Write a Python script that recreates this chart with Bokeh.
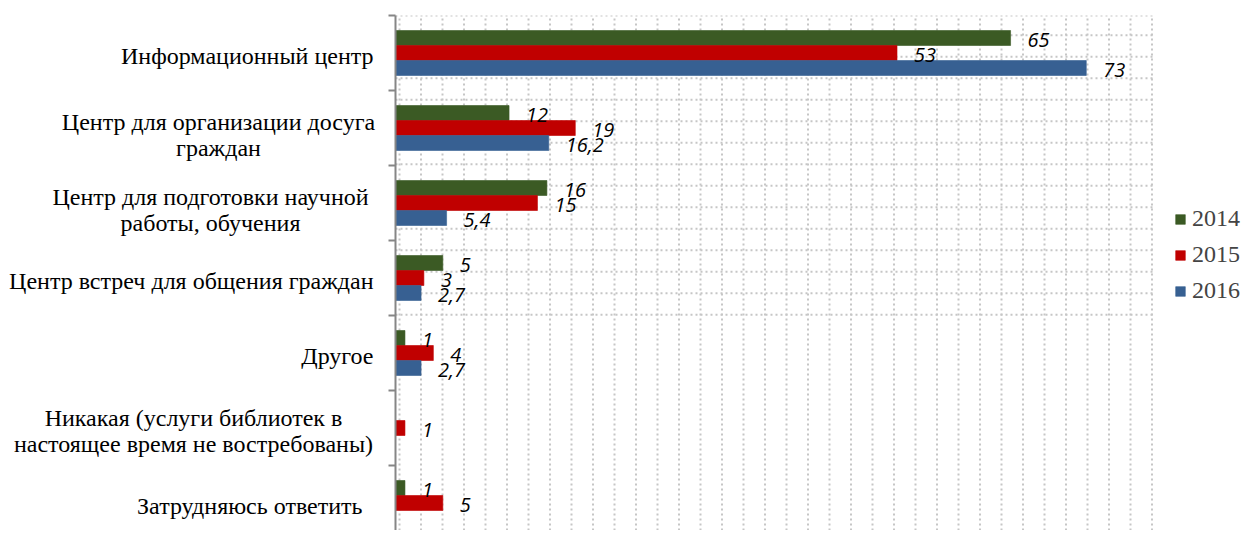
import numpy as np
from bokeh.plotting import figure
from bokeh.layouts import row
from bokeh.models import Range1d, FixedTicker, Legend, LegendItem, ColumnDataSource
from bokeh.embed import file_html
from bokeh.resources import INLINE
from bokeh.core.properties import value

categories = [
    "Информационный центр",
    "Центр для организации досуга\nграждан",
    "Центр для подготовки научной\nработы, обучения",
    "Центр встреч для общения граждан",
    "Другое",
    "Никакая (услуги библиотек в\nнастоящее время не востребованы)",
    "Затрудняюсь ответить",
]
years = ["2014", "2015", "2016"]
v2014 = [65, 12, 16, 5, 1, None, 1]
v2015 = [53, 19, 15, 3, 4, 1, 5]
v2016 = [73, 16.2, 5.4, 2.7, 2.7, None, None]
colors = ["#3B5A24", "#C00000", "#376092"]

SERIF = "Liberation Serif"

n = len(categories)
centers = [n - i - 0.5 for i in range(n)]
offsets = [0.2, 0.0, -0.2]
series = [v2014, v2015, v2016]

# layout constants (pixels)
TOP = 15
H = 530
LEFT_W = 387
MAIN_W = 856
frame_h = H - TOP
px_per_cat = 75.0
y_rng = Range1d(n - frame_h / px_per_cat, n)
X_MAX = 80
frame_w = MAIN_W - 8
px_per_x = 757 / X_MAX
x_rng = Range1d(0, frame_w / px_per_x)

# ---------- left figure: category labels ----------
lf = figure(width=LEFT_W, height=H, output_backend="svg", toolbar_location=None,
            min_border=0, min_border_top=TOP, min_border_bottom=0,
            x_range=Range1d(0, LEFT_W), y_range=y_rng)
lf.axis.visible = False
lf.grid.visible = False
lf.outline_line_color = None

# label placement (pixels): right edge for single-line labels,
# block centre + extra downward shift for two-line labels
single_right = {0: 373, 3: 373, 4: 373, 6: 362}
multi_center = {1: 218, 2: 210, 5: 193}
multi_shift = {1: 7, 2: 7, 5: 3}

single_x, single_y, single_t = [], [], []
multi_x, multi_y, multi_t = [], [], []
for i, (c, lab) in enumerate(zip(centers, categories)):
    if "\n" in lab:
        multi_x.append(multi_center[i])
        multi_y.append(c - multi_shift[i] / px_per_cat)
        multi_t.append(lab)
    else:
        single_x.append(single_right[i])
        single_y.append(c)
        single_t.append(lab)
lf.text(x=single_x, y=single_y, text=single_t, text_align="right", text_baseline="bottom",
        y_offset=16, text_font=value(SERIF), text_font_size="24px")
lf.text(x=multi_x, y=multi_y, text=multi_t, text_align="center", text_baseline="bottom",
        y_offset=26, text_font=value(SERIF), text_font_size="24px",
        text_line_height=1.0)

# ---------- main figure ----------
p = figure(width=MAIN_W, height=H, output_backend="svg", toolbar_location=None,
           min_border_left=8, min_border_right=0, min_border_top=TOP, min_border_bottom=0,
           x_range=x_rng, y_range=y_rng)
p.outline_line_color = None
p.xaxis.visible = False
p.grid.visible = False

# dotted pattern grid of the plot area
GRID_SP = 21.5
gx0 = 4.0
xg = []
k = 0
while gx0 + k * GRID_SP <= 757.5:
    xg.append((gx0 + k * GRID_SP) / px_per_x)
    k += 1
yg = [n]
ref_line = n - (99.3 - TOP) / px_per_cat
for k in range(-10, 40):
    yy = ref_line + k * GRID_SP / px_per_cat
    if y_rng.start - 0.01 < yy < n - 0.02:
        yg.append(yy)
grid_style = dict(line_color="#c6c6c6", line_dash="2 3", line_width=2)
p.segment(x0=xg, x1=xg, y0=[y_rng.start] * len(xg), y1=[n] * len(xg), **grid_style)
p.segment(x0=[0] * len(yg), x1=[X_MAX] * len(yg), y0=yg, y1=yg, **grid_style)

renderers = []
label_sources = []
for vals, off, col in zip(series, offsets, colors):
    ys = [c + off for c in centers]
    xs = [np.nan if v is None else v for v in vals]
    src = ColumnDataSource(dict(y=ys, right=xs))
    r = p.hbar(y="y", right="right", left=0, height=0.2, source=src,
               fill_color=col, line_color=col, line_alpha=0.6, line_width=1)
    renderers.append(r)
    lx, ly, lt = [], [], []
    for v, yy in zip(vals, ys):
        if v is None:
            continue
        lx.append(v); ly.append(yy); lt.append(("%g" % v).replace(".", ","))
    label_sources.append(ColumnDataSource(dict(x=lx, y=ly, t=lt)))

# value labels drawn after all bars so no bar covers them
for lsrc in label_sources:
    p.text(x="x", y="y", text="t", source=lsrc, x_offset=17, y_offset=1.5,
           text_align="left", text_baseline="middle",
           text_font=value("Open Sans"), text_font_style="italic",
           text_font_size="20px", text_color="black")

ax = p.yaxis[0]
ax.ticker = FixedTicker(ticks=[], minor_ticks=list(range(n + 1)))
ax.major_tick_out = 0
ax.major_tick_in = 0
ax.minor_tick_out = 7
ax.minor_tick_in = 0
ax.minor_tick_line_color = "#868686"
ax.minor_tick_line_width = 2
ax.axis_line_color = "#868686"
ax.axis_line_width = 2
ax.major_label_standoff = 0
ax.major_label_text_font_size = "1px"

legend = Legend(items=[LegendItem(label=yr, renderers=[r]) for yr, r in zip(years, renderers)],
                location=(779, 226), orientation="vertical",
                glyph_width=12, glyph_height=12, label_standoff=6, spacing=9,
                padding=0, margin=0, border_line_color=None, background_fill_alpha=0,
                label_text_font=SERIF, label_text_font_size="24px",
                label_height=24)
p.add_layout(legend)

layout = row(lf, p)
open("out.html", "w").write(file_html(layout, INLINE))
